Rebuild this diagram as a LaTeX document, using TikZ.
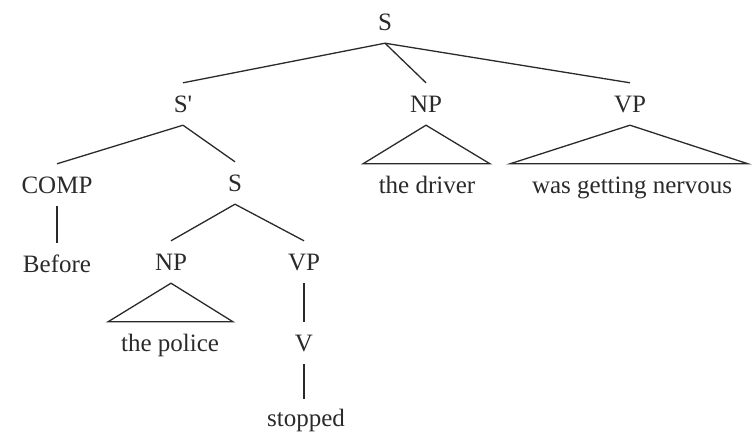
\documentclass[tikz,border=0pt]{standalone}
\usepackage{fontspec}
\setmainfont{Liberation Serif}
\usetikzlibrary{calc}
\definecolor{ink}{HTML}{2A2A2A}
\begin{document}
\begin{tikzpicture}[x=1pt,y=-1pt,
  lab/.style={inner sep=0pt, minimum height=42pt, text height=17pt, text depth=0pt, font=\fontsize{25}{28}\selectfont\rmfamily, text=ink},
  edge/.style={draw=ink, line width=1.3pt},
  tri/.style={draw=ink, line width=1.3pt, line join=miter}]
\useasboundingbox (0,0) rectangle (755,432);
\node[lab] (s) at (385,22) {S};
\node[lab] (sp) at (183,104) {S\textquotesingle};
\node[lab] (np1) at (426,104) {NP};
\node[lab] (vp1) at (630,104) {VP};
\node[lab] (comp) at (57,185) {COMP};
\node[lab] (s2) at (235,183) {S};
\node[lab] (before) at (57,264) {Before};
\node[lab] (np2) at (171,262) {NP};
\node[lab] (vp2) at (304,262) {VP};
\node[lab] (thepolice) at (170,343) {the police};
\node[lab] (v) at (304,343) {V};
\node[lab] (stopped) at (306,418) {stopped};
\node[lab] (thedriver) at (427,185) {the driver};
\node[lab] (wgn) at (632,185) {was getting nervous};

\draw[edge] (s.south) -- (sp.north);
\draw[edge] (s.south) -- (np1.north);
\draw[edge] (s.south) -- (vp1.north);
\draw[edge] (sp.south) -- (comp.north);
\draw[edge] (sp.south) -- (s2.north);
\draw[edge] (comp.south) -- (before.north);
\draw[edge] (s2.south) -- (np2.north);
\draw[edge] (s2.south) -- (vp2.north);
\draw[edge] (vp2.south) -- (v.north);
\draw[edge] (v.south) -- ($(stopped.north -| v.south)+(0,2)$);
\draw[tri] (np2.south) -- ($(thepolice.north)+(-62,0)$) -- ($(thepolice.north)+(63,0)$) -- cycle;
\draw[tri] (np1.south) -- ($(thedriver.north)+(-64,0)$) -- ($(thedriver.north)+(63,0)$) -- cycle;
\draw[tri] (vp1.south) -- ($(wgn.north)+(-122,0)$) -- ($(wgn.north)+(116,0)$) -- cycle;
\end{tikzpicture}
\end{document}
